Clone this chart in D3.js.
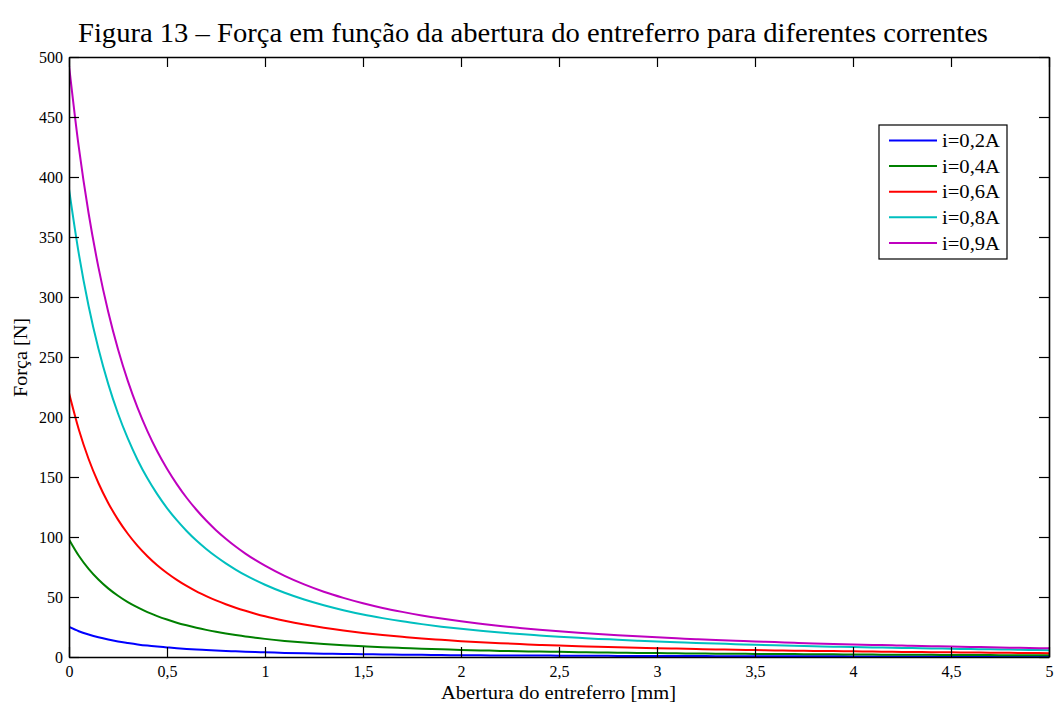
<!DOCTYPE html>
<html>
<head>
<meta charset="utf-8">
<script src="https://cdn.jsdelivr.net/npm/d3@7"></script>
<style>
  html, body { margin: 0; padding: 0; background: #fff; }
  svg { display: block; }
  svg text { font-family: "Liberation Serif", "Times New Roman", Times, serif !important; fill: #000; }
  .tick text { font-size: 16px !important; }
</style>
</head>
<body>
<svg id="chart" width="1057" height="704"></svg>
<script>
// Air-gap opening (mm)
const gapMm = [
  0, 0.05, 0.1, 0.15, 0.2, 0.25, 0.3, 0.35, 0.4, 0.45, 0.5,
  0.55, 0.6, 0.65, 0.7, 0.75, 0.8, 0.85, 0.9, 0.95, 1.0,
  1.1, 1.2, 1.3, 1.4, 1.5, 1.6, 1.7, 1.8, 1.9, 2.0,
  2.1, 2.2, 2.3, 2.4, 2.5, 2.6, 2.7, 2.8, 2.9, 3.0,
  3.1, 3.2, 3.3, 3.4, 3.5, 3.6, 3.7, 3.8, 3.9, 4.0,
  4.1, 4.2, 4.3, 4.4, 4.5, 4.6, 4.7, 4.8, 4.9, 5.0
];

// Force (N) for each coil current
const force02 = [
  25, 21.5, 18.8, 16.5, 14.6, 13.0, 11.7, 10.5, 9.5, 8.7, 8.0,
  7.3, 6.7, 6.2, 5.8, 5.4, 5.0, 4.7, 4.4, 4.1, 3.9,
  3.4, 3.1, 2.8, 2.5, 2.3, 2.1, 1.9, 1.8, 1.6, 1.5,
  1.4, 1.3, 1.2, 1.2, 1.1, 1.0, 1.0, 0.9, 0.9, 0.8,
  0.8, 0.8, 0.7, 0.7, 0.7, 0.6, 0.6, 0.6, 0.6, 0.5,
  0.5, 0.5, 0.5, 0.5, 0.4, 0.4, 0.4, 0.4, 0.4, 0.4
];
const force04 = [
  98, 84.4, 73.5, 64.6, 57.2, 51.0, 45.7, 41.3, 37.4, 34.1, 31.2,
  28.6, 26.4, 24.4, 22.6, 21.0, 19.6, 18.3, 17.1, 16.1, 15.1,
  13.4, 12.0, 10.8, 9.8, 8.9, 8.1, 7.5, 6.9, 6.4, 5.9,
  5.5, 5.1, 4.8, 4.5, 4.3, 4.0, 3.8, 3.6, 3.4, 3.3,
  3.1, 2.9, 2.8, 2.7, 2.6, 2.5, 2.4, 2.3, 2.2, 2.1,
  2.0, 1.9, 1.9, 1.8, 1.7, 1.7, 1.6, 1.5, 1.5, 1.4
];
const force06 = [
  220, 189.6, 165.0, 145.0, 128.4, 114.5, 102.7, 92.6, 84.0, 76.5, 70.0,
  64.3, 59.2, 54.7, 50.8, 47.2, 44.0, 41.1, 38.5, 36.1, 33.9,
  30.2, 27.0, 24.3, 22.0, 20.0, 18.3, 16.8, 15.4, 14.3, 13.2,
  12.3, 11.5, 10.8, 10.1, 9.5, 9.0, 8.5, 8.1, 7.7, 7.3,
  7.0, 6.6, 6.3, 6.0, 5.8, 5.5, 5.3, 5.1, 4.9, 4.7,
  4.5, 4.3, 4.2, 4.0, 3.9, 3.7, 3.6, 3.5, 3.3, 3.2
];
const force08 = [
  390, 336.1, 292.5, 257.0, 227.6, 202.9, 182.1, 164.2, 148.9, 135.7, 124.1,
  114.0, 105.0, 97.0, 90.0, 83.7, 78.0, 72.9, 68.2, 64.0, 60.2,
  53.5, 47.9, 43.1, 39.0, 35.4, 32.4, 29.7, 27.4, 25.3, 23.5,
  21.9, 20.4, 19.1, 18.0, 16.9, 16.0, 15.1, 14.4, 13.6, 12.9,
  12.3, 11.7, 11.2, 10.7, 10.2, 9.8, 9.4, 9.0, 8.6, 8.3,
  8.0, 7.7, 7.4, 7.1, 6.9, 6.6, 6.4, 6.2, 5.9, 5.7
];
const force09 = [
  493, 424.8, 369.8, 324.9, 287.7, 256.5, 230.1, 207.6, 188.3, 171.5, 156.9,
  144.1, 132.7, 122.7, 113.7, 105.7, 98.6, 92.1, 86.2, 80.9, 76.1,
  67.6, 60.5, 54.4, 49.3, 44.8, 40.9, 37.6, 34.6, 32.0, 29.7,
  27.7, 25.8, 24.2, 22.7, 21.4, 20.2, 19.1, 18.1, 17.2, 16.4,
  15.6, 14.8, 14.1, 13.5, 12.9, 12.4, 11.8, 11.3, 10.9, 10.5,
  10.1, 9.7, 9.4, 9.0, 8.7, 8.4, 8.1, 7.8, 7.5, 7.2
];

const seriesLabels = ["i=0,2A", "i=0,4A", "i=0,6A", "i=0,8A", "i=0,9A"];
const seriesColors = ["#0000ff", "#008000", "#ff0000", "#00bfbf", "#bf00bf"];
const seriesValues = [force02, force04, force06, force08, force09];

const xTickValues = [0, 0.5, 1, 1.5, 2, 2.5, 3, 3.5, 4, 4.5, 5];
const xTickLabels = ["0", "0,5", "1", "1,5", "2", "2,5", "3", "3,5", "4", "4,5", "5"];
const yTickValues = [0, 50, 100, 150, 200, 250, 300, 350, 400, 450, 500];

const titleText = "Figura 13 \u2013 For\u00e7a em fun\u00e7\u00e3o da abertura do entreferro para diferentes correntes";
const xTitle = "Abertura do entreferro [mm]";
const yTitle = "For\u00e7a [N]";

// Layout
const plot = { left: 69, right: 1049, top: 57, bottom: 657 };
const svg = d3.select("#chart");

const x = d3.scaleLinear().domain([0, 5]).range([plot.left, plot.right]);
const y = d3.scaleLinear().domain([0, 500]).range([plot.bottom, plot.top]);

// Title
svg.append("text")
  .attr("x", 78).attr("y", 42)
  .attr("font-size", 27)
  .attr("textLength", 910)
  .attr("lengthAdjust", "spacingAndGlyphs")
  .text(titleText);

// Curves
const line = d3.line()
  .x((d, i) => x(gapMm[i]))
  .y(d => y(d))
  .curve(d3.curveMonotoneX);

svg.append("clipPath").attr("id", "plotclip")
  .append("rect")
  .attr("x", plot.left).attr("y", plot.top)
  .attr("width", plot.right - plot.left).attr("height", plot.bottom - plot.top);

svg.append("g").attr("clip-path", "url(#plotclip)")
  .selectAll("path")
  .data(seriesValues)
  .join("path")
  .attr("d", d => line(d))
  .attr("fill", "none")
  .attr("stroke", (d, i) => seriesColors[i])
  .attr("stroke-width", 2)
  .attr("stroke-linejoin", "round");

// Axes with inward ticks on all four sides
const tickLen = 10;

const gBottom = svg.append("g").attr("transform", `translate(0,${plot.bottom})`)
  .call(d3.axisBottom(x).tickValues(xTickValues)
    .tickFormat((d, i) => xTickLabels[i])
    .tickSizeInner(-tickLen).tickSizeOuter(0).tickPadding(9));
const gTop = svg.append("g").attr("transform", `translate(0,${plot.top})`)
  .call(d3.axisTop(x).tickValues(xTickValues).tickFormat("")
    .tickSizeInner(-tickLen).tickSizeOuter(0));
const gLeft = svg.append("g").attr("transform", `translate(${plot.left},0)`)
  .call(d3.axisLeft(y).tickValues(yTickValues).tickFormat(d3.format("d"))
    .tickSizeInner(-tickLen).tickSizeOuter(0).tickPadding(6));
const gRight = svg.append("g").attr("transform", `translate(${plot.right},0)`)
  .call(d3.axisRight(y).tickValues(yTickValues).tickFormat("")
    .tickSizeInner(-tickLen).tickSizeOuter(0));

[gBottom, gTop, gLeft, gRight].forEach(g => {
  g.select(".domain").attr("stroke", "#000").attr("stroke-width", 1.6);
  g.selectAll(".tick line").attr("stroke", "#000").attr("stroke-width", 1.2);
});

// Axis titles
svg.append("text")
  .attr("x", (plot.left + plot.right) / 2 - 0.5).attr("y", 699)
  .attr("text-anchor", "middle")
  .attr("font-size", 18)
  .attr("textLength", 235)
  .attr("lengthAdjust", "spacingAndGlyphs")
  .text(xTitle);

svg.append("text")
  .attr("transform", "translate(27,357.5) rotate(-90)")
  .attr("text-anchor", "middle")
  .attr("font-size", 18)
  .attr("textLength", 79)
  .attr("lengthAdjust", "spacingAndGlyphs")
  .text(yTitle);

// Legend
const legend = { left: 879, top: 125, width: 128, height: 134, rowTop: 140.5, rowStep: 25.6 };
const gLegend = svg.append("g");
gLegend.append("rect")
  .attr("x", legend.left).attr("y", legend.top)
  .attr("width", legend.width).attr("height", legend.height)
  .attr("fill", "#fff").attr("stroke", "#000").attr("stroke-width", 1.2);

const rows = gLegend.selectAll("g.row")
  .data(seriesLabels)
  .join("g")
  .attr("class", "row")
  .attr("transform", (d, i) => `translate(0,${legend.rowTop + i * legend.rowStep})`);
rows.append("line")
  .attr("x1", 889).attr("x2", 937)
  .attr("stroke", (d, i) => seriesColors[i])
  .attr("stroke-width", 2);
rows.append("text")
  .attr("x", 942).attr("dy", "0.35em")
  .attr("font-size", 19)
  .attr("textLength", 58)
  .attr("lengthAdjust", "spacingAndGlyphs")
  .text(d => d);
</script>
</body>
</html>
